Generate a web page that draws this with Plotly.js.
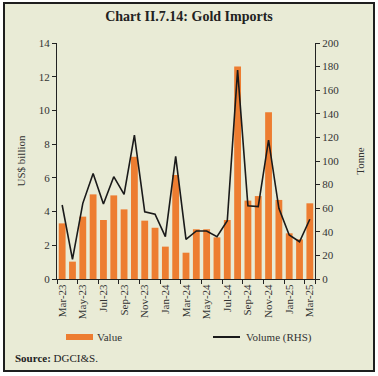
<!DOCTYPE html>
<html>
<head>
<meta charset="utf-8">
<script src="https://cdn.plot.ly/plotly-3.0.1.min.js"></script>
<style>
html,body{margin:0;padding:0;background:#ffffff;}
#frame{position:absolute;left:3px;top:2px;width:368px;height:366px;border:2px solid #1e1e1e;background:#e9ebd6;}
#chart{position:absolute;left:0;top:0;width:378px;height:376px;}
</style>
</head>
<body>
<div id="frame"></div>
<div id="chart"></div>
<script>
const months = ["Mar-23","Apr-23","May-23","Jun-23","Jul-23","Aug-23","Sep-23","Oct-23","Nov-23","Dec-23",
  "Jan-24","Feb-24","Mar-24","Apr-24","May-24","Jun-24","Jul-24","Aug-24","Sep-24","Oct-24","Nov-24","Dec-24",
  "Jan-25","Feb-25","Mar-25"];
const valueUSD = [3.30,1.03,3.70,5.02,3.50,4.96,4.13,7.25,3.46,3.04,
  1.92,6.17,1.56,2.95,2.95,2.47,3.50,12.6,4.65,4.92,9.89,4.69,
  2.71,2.35,4.49];
const volumeTonne = [62.7,16.7,64.1,89.5,63.6,86.7,71.7,122,57,55,
  35.9,104,33.6,40.7,40.7,35.9,49.4,177,62,61.3,117.8,59.9,
  37.3,31.6,50.6];
const tickLabels = ["Mar-23","May-23","Jul-23","Sep-23","Nov-23","Jan-24","Mar-24","May-24","Jul-24","Sep-24","Nov-24","Jan-25","Mar-25"];

const serif = "Liberation Serif, Times New Roman, serif";
const txt = "#333333";

const traces = [
  {type:"bar", x:months, y:valueUSD, name:"Value", marker:{color:"#ed7d31"}, width:0.66, yaxis:"y", showlegend:false},
  {type:"scatter", mode:"lines", x:months, y:volumeTonne, name:"Volume (RHS)", line:{color:"#1a1a1a", width:1.6}, yaxis:"y2", showlegend:false}
];

const layout = {
  width:378, height:376,
  margin:{l:57, r:63, t:43, b:97},
  paper_bgcolor:"rgba(0,0,0,0)",
  plot_bgcolor:"rgba(0,0,0,0)",
  font:{family:serif, size:11, color:txt},
  title:{text:"<b>Chart II.7.14: Gold Imports</b>", x:0.5, xref:"container", y:0.957, yref:"container", yanchor:"middle",
    font:{family:serif, size:14, color:"#222222"}},
  xaxis:{type:"category", tickmode:"array", tickvals:tickLabels, ticktext:tickLabels, tickangle:-90,
    ticks:"outside", tickson:"boundaries", ticklen:4, tickcolor:"#222", showline:true, linecolor:"#222", linewidth:1,
    tickfont:{family:serif, size:11, color:txt}, showgrid:false, zeroline:false, range:[-0.5,24.5]},
  yaxis:{range:[0,14], dtick:2, ticks:"outside", ticklen:4, tickcolor:"#222", showline:true, linecolor:"#222", linewidth:1,
    showgrid:false, zeroline:false, tickfont:{family:serif, size:11, color:txt},
    title:{text:"US$ billion", font:{family:serif, size:11, color:txt}, standoff:10}},
  yaxis2:{range:[0,200], dtick:20, overlaying:"y", side:"right", ticks:"outside", ticklen:4, tickcolor:"#222",
    showline:true, linecolor:"#222", linewidth:1, showgrid:false, zeroline:false,
    tickfont:{family:serif, size:11, color:txt},
    title:{text:"Tonne", font:{family:serif, size:11, color:txt}, standoff:18}},
  bargap:0.34,
  shapes:[
    {type:"rect", xref:"paper", yref:"paper", x0:0.0349, x1:0.1395, y0:-0.2585, y1:-0.233, fillcolor:"#ed7d31", line:{width:0}},
    {type:"line", xref:"paper", yref:"paper", x0:0.6047, x1:0.7093, y0:-0.2458, y1:-0.2458, line:{color:"#1a1a1a", width:2}}
  ],
  annotations:[
    {xref:"paper", yref:"paper", x:0.1473, y:-0.2458, xanchor:"left", yanchor:"middle", text:"Value", showarrow:false, font:{family:serif, size:11, color:txt}},
    {xref:"paper", yref:"paper", x:0.7248, y:-0.2458, xanchor:"left", yanchor:"middle", text:"Volume (RHS)", showarrow:false, font:{family:serif, size:11, color:txt}},
    {xref:"paper", yref:"paper", x:-0.1705, y:-0.3347, xanchor:"left", yanchor:"middle", text:"<b>Source:</b> DGCI&S.", showarrow:false, font:{family:serif, size:11, color:"#222"}}
  ]
};

Plotly.newPlot("chart", traces, layout, {displayModeBar:false, staticPlot:true});
</script>
</body>
</html>
